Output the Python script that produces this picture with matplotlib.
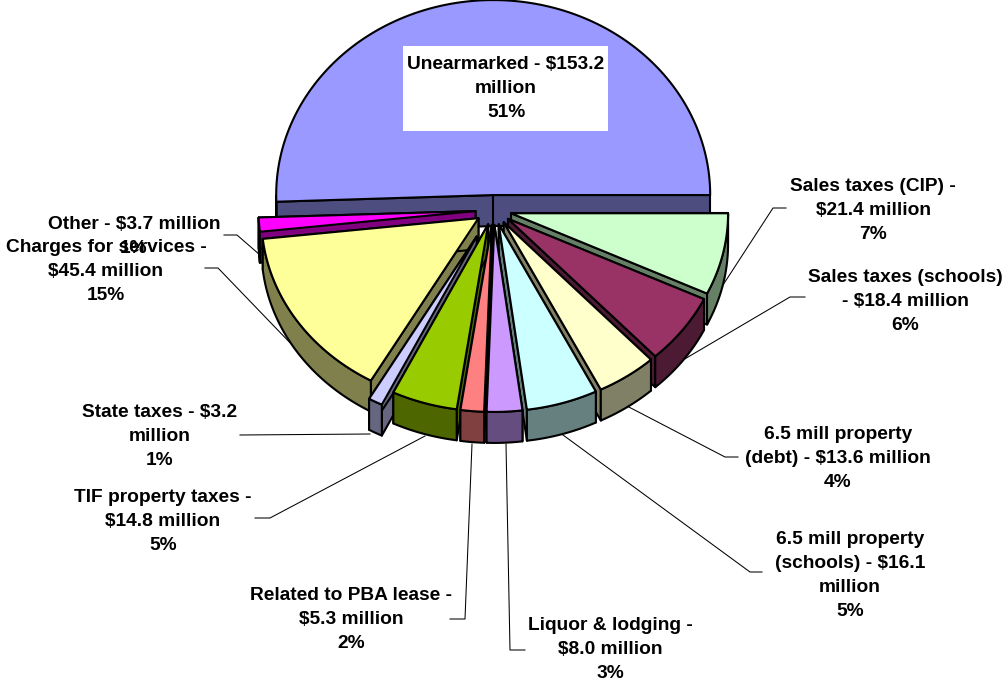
import numpy as np
import matplotlib
matplotlib.use("Agg")
import matplotlib.pyplot as plt
from matplotlib.patches import Polygon, Rectangle

plt.rcParams['font.family'] = ['Liberation Sans', 'DejaVu Sans']

# slices, clockwise from 3 o'clock
names = ['Sales taxes (CIP)', 'Sales taxes (schools)', '6.5 mill property (debt)',
         '6.5 mill property (schools)', 'Liquor & lodging', 'Related to PBA lease',
         'TIF property taxes', 'State taxes', 'Charges for services', 'Other', 'Unearmarked']
values = [21.4, 18.4, 13.6, 16.1, 8.0, 5.3, 14.8, 3.2, 45.4, 3.7, 153.2]
tops = ['#CCFFCC', '#993366', '#FFFFCC', '#CCFFFF', '#CC99FF', '#FF8080',
        '#99CC00', '#CCCCFF', '#FFFF99', '#FF00FF', '#9999FF']
walls = ['#668066', '#4D1A33', '#808066', '#668080', '#664D80', '#804040',
         '#4D6600', '#666680', '#80804D', '#800080', '#4D4D80']

# label text, centre x, y of first line
labels = [
    ('Sales taxes (CIP) -\n$21.4 million\n7%', 873, 184),
    ('Sales taxes (schools)\n- $18.4 million\n6%', 905, 275),
    ('6.5 mill property\n(debt) - $13.6 million\n4%', 838, 432),
    ('6.5 mill property\n(schools) - $16.1\nmillion\n5%', 850, 537),
    ('Liquor & lodging -\n$8.0 million\n3%', 610, 623),
    ('Related to PBA lease -\n$5.3 million\n2%', 351, 593),
    ('TIF property taxes -\n$14.8 million\n5%', 163, 495),
    ('State taxes - $3.2\nmillion\n1%', 160, 410),
    ('Charges for services -\n$45.4 million\n15%', 106, 245),
    ('Other - $3.7 million\n1%', 134, 222),
    ('Unearmarked - $153.2\nmillion\n51%', 506, 62),
]

leaders = [
    [(786, 208), (773, 208), (723, 285)],
    [(805, 297), (790, 297), (683, 360)],
    [(738, 457), (725, 457), (625, 405)],
    [(762, 572), (750, 572), (563, 435)],
    [(525, 650), (510, 650), (506, 444)],
    [(450, 619), (465, 619), (472, 444)],
    [(255, 518), (270, 518), (425, 436)],
    [(240, 435), (370, 434)],
    [(205, 268), (218, 268), (297, 350)],
    [(224, 235), (237, 235), (260, 255)],
]

cx, cy = 493.5, 210      # pie centre, px
rx, ry = 217, 187        # radii of the top face
big_ry = 195             # the back slice looks taller (perspective)
explode = 18
state_explode = 36       # this slice is pulled further out
squash = 0.83
depth = 31
edge_lw = 1.5

fig = plt.figure(figsize=(10.08, 6.81), dpi=100)
ax = fig.add_axes([0, 0, 1, 1])
ax.set_xlim(0, 1008)
ax.set_ylim(681, 0)
ax.axis('off')

shares = np.array(values) / sum(values) * 360
ends = np.cumsum(shares)
starts = ends - shares
mids = np.radians((starts + ends) / 2)


def poly(pts, color, z):
    ax.add_patch(Polygon(pts, closed=True, facecolor=color, edgecolor='black',
                         linewidth=edge_lw, joinstyle='round', zorder=z))


# back to front
order = np.argsort(np.sin(mids))
for n, i in enumerate(order):
    z = 2 + n
    a0, a1 = starts[i], ends[i]
    e = state_explode if names[i] == 'State taxes' else explode
    ax_, ay_ = cx + e * np.cos(mids[i]), cy + e * squash * np.sin(mids[i])
    r_y = big_ry if names[i] == 'Unearmarked' else ry

    t = np.radians(np.linspace(a0, a1, 200))
    arc = np.column_stack([ax_ + rx * np.cos(t), ay_ + r_y * np.sin(t)])
    apex = np.array([ax_, ay_])
    down = np.array([0, depth])

    # cut faces
    poly([apex, arc[0], arc[0] + down, apex + down], walls[i], z)
    poly([apex, arc[-1], arc[-1] + down, apex + down], walls[i], z)

    # outer wall, front half only
    vis = arc[np.sin(t) >= 0]
    if len(vis) > 1:
        poly(np.vstack([vis, vis[::-1] + down]), walls[i], z)

    poly(np.vstack([apex, arc]), tops[i], z)

for pts in leaders:
    xs, ys = zip(*pts)
    ax.plot(xs, ys, color='black', lw=0.75, zorder=1)

# white box behind the big label
ax.add_patch(Rectangle((403, 46), 205, 85, facecolor='white', edgecolor='none', zorder=29))

for i, (txt, x, y) in enumerate(labels):
    ax.text(x, y - 6, txt, ha='center', va='top', fontsize=13.8, fontweight='bold',
            color='black', linespacing=1.53, zorder=30)

fig.savefig('out.png', dpi=100, facecolor='white')
